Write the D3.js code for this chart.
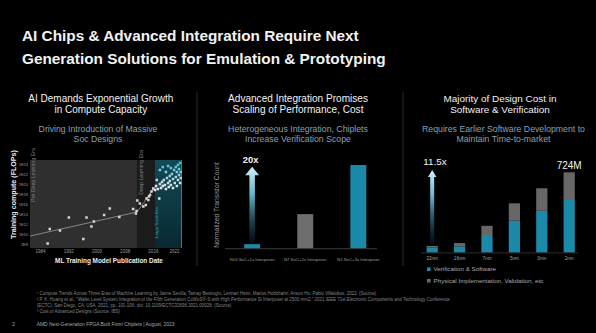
<!DOCTYPE html>
<html><head><meta charset="utf-8">
<script src="https://cdn.jsdelivr.net/npm/d3@7"></script>
<style>
html,body{margin:0;padding:0;background:#000;}
svg{display:block;}
text{font-family:"Liberation Sans",Arial,sans-serif;}
</style></head><body>
<svg id="c" width="596" height="333"></svg>
<script>
// ---------------- DATA ----------------
const titleLines = ["AI Chips & Advanced Integration Require Next", "Generation Solutions for Emulation & Prototyping"];

const panelHeaders = [
  ["AI Demands Exponential Growth", "in Compute Capacity"],
  ["Advanced Integration Promises", "Scaling of Performance, Cost"],
  ["Majority of Design Cost in", "Software & Verification"]
];
const panelSubtitles = [
  ["Driving Introduction of Massive", "Soc Designs"],
  ["Heterogeneous Integration, Chiplets", "Increase Verification Scope"],
  ["Requires Earlier Software Development to", "Maintain Time-to-market"]
];

// Panel 1: ML training compute
const eraNames = ["Pre Deep Learning Era", "Deep Learning Era", "Large Scale Era"];
const eraStartYear = [1981.2, 2011.5, 2016.6];
const eraEndYear = [2011.5, 2016.6, 2024.25];
const yearTicks = [1984, 1992, 2000, 2008, 2016, 2022];
const flopTickExps = [8, 10, 12, 14, 16, 18, 20, 22, 24];
const modelYears = [1986.2, 1986.8, 1989.7, 1992.2, 1996.3, 1997.2, 1998.6, 1999.3, 2002.2, 2003.8, 2006.5,
  2010.4, 2011.2, 2011.4, 2011.6, 2012.3, 2013.3, 2014.0, 2014.2, 2014.7, 2015.2, 2015.6, 2014.9, 2016.1, 2016.6, 2017.8,
  2016.9, 2017.4, 2018.0, 2018.3, 2018.6, 2018.8, 2019.1, 2019.4, 2019.7, 2020.0, 2020.3, 2020.5, 2020.8, 2020.8,
  2021.1, 2021.4, 2021.7, 2021.7, 2022.0, 2022.2, 2022.5, 2022.5, 2022.8, 2022.8, 2023.1, 2023.1, 2023.4, 2023.4,
  2023.7, 2023.7, 2023.9, 2023.9, 2017.1, 2018.0, 2018.8, 2019.7, 2020.3, 2021.1];
const modelFlopExps = [8.1, 11.0, 10.7, 13.3, 9.0, 13.3, 11.5, 12.5, 13.8, 15.1, 13.4,
  15.0, 14.1, 14.6, 16.7, 16.1, 15.5, 15.8, 17.1, 16.8, 17.8, 18.5, 17.5, 19.1, 18.8, 17.1,
  19.6, 19.0, 20.0, 19.2, 20.4, 19.6, 20.8, 19.8, 19.0, 21.2, 20.2, 19.4, 21.6, 20.6,
  19.8, 22.0, 21.0, 19.2, 22.8, 20.2, 21.4, 23.4, 22.4, 19.6, 20.8, 23.8, 21.8, 23.0,
  20.2, 24.2, 21.2, 22.4, 20.8, 22.8, 23.4, 22.4, 23.6, 23.2];
const trendYears = [[1981.2, 2011.5], [2011.5, 2016.6]];
const trendFlopExps = [[9.6, 14.4], [14.4, 19.4]];

// Panel 2: normalized transistor count
const integCategories = ["N16 SoC+1x Interposer", "N7 SoC+2x Interposer", "N5 SoC+3x Interposer"];
const integValues = [1, 8.2, 20];
const integLabel = "20x";

// Panel 3: design cost ($M)
const nodes = ["22nm", "16nm", "7nm", "5nm", "3nm", "2nm"];
const verifSoftware = [46, 55, 158, 287, 377, 474];
const physicalImpl = [14, 30, 83, 157, 203, 250];
const costLegend = ["Verification & Software", "Physical Implementation, Validation, etc"];
const costGrowthLabel = "11.5x";

const footnotes = [
  "¹ Compute Trends Across Three Eras of Machine Learning by Jaime Sevilla, Tamay Besiroglu, Lennart Heim, Marius Hobbhahn, Anson Ho, Pablo Villalobos. 2022. (Source)",
  "² P. K. Huang et al., \"Wafer Level System Integration of the Fifth Generation CoWoS®-S with High Performance Si Interposer at 2500 mm2,\" 2021 IEEE 71st Electronic Components and Technology Conference",
  "(ECTC), San Diego, CA, USA, 2021, pp. 101-106, doi: 10.1109/ECTC32696.2021.00028. (Source)",
  "³ Cost of Advanced Designs (Source: IBS)"
];
const footerText = "AMD Next-Generation FPGA Built From Chiplets  |  August, 2023";
const pageNumber = "2";

// ---------------- DRAW ----------------
const svg = d3.select("#c");
const defs = svg.append("defs");
svg.append("rect").attr("width", 596).attr("height", 333).attr("fill", "#000");

function addText(parent, txt, x, y, size, o = {}) {
  const t = parent.append("text")
    .attr("x", x).attr("y", y)
    .attr("font-size", size)
    .attr("fill", o.fill || "#fff")
    .attr("text-anchor", o.anchor || "start")
    .attr("font-weight", o.weight || "normal")
    .text(txt);
  if (o.transform) t.attr("transform", o.transform);
  if (o.width) {
    const l = t.node().getComputedTextLength();
    if (l > 0) t.attr("font-size", size * o.width / l);
  }
  return t;
}

// Title
const t0 = addText(svg, titleLines[0], 22, 41, 16.5, {weight: "bold", fill: "#f2f2f2", width: 337});
addText(svg, titleLines[1], 22, 64, +t0.attr("font-size"), {weight: "bold", fill: "#f2f2f2"});

// Panel headers
const headerCx = [100.8, 298, 500];
const headerW = [145, 140, 113];
const subW = [119, 140, 163];
const subCx = [98, 298, 503.5];
panelHeaders.forEach((h, i) => {
  const a = addText(svg, h[0], headerCx[i], 101.5, 10, {anchor: "middle", fill: "#f0f0f0", width: headerW[i]});
  addText(svg, h[1], headerCx[i], 112.5, +a.attr("font-size"), {anchor: "middle", fill: "#f0f0f0"});
});
panelSubtitles.forEach((s, i) => {
  const a = addText(svg, s[0], subCx[i], 131.5, 9, {anchor: "middle", fill: "#86a0b2", width: subW[i]});
  addText(svg, s[1], subCx[i], 141.5, +a.attr("font-size"), {anchor: "middle", fill: "#86a0b2"});
});

// Dividers
[197, 403].forEach(x => svg.append("line").attr("x1", x).attr("x2", x).attr("y1", 92).attr("y2", 266)
  .attr("stroke", "#353535").attr("stroke-width", 0.8));

// ---------- Panel 1 ----------
const x1 = d3.scaleLinear().domain([1981.2, 2024.25]).range([30, 182]);
const y1 = d3.scaleLog().domain([Math.pow(10, 7.2), Math.pow(10, 24.8)]).range([248, 160]);
const p1 = svg.append("g");

const lsGrad = defs.append("linearGradient").attr("id", "lsGrad").attr("x1", 0).attr("y1", 0).attr("x2", 0).attr("y2", 1);
lsGrad.append("stop").attr("offset", "0%").attr("stop-color", "#124a57");
lsGrad.append("stop").attr("offset", "100%").attr("stop-color", "#092830");
const eraFills = ["#2f2f2f", "#1b1b1b", "url(#lsGrad)"];
eraNames.forEach((n, i) => {
  p1.append("rect")
    .attr("x", x1(eraStartYear[i])).attr("y", y1.range()[1])
    .attr("width", x1(eraEndYear[i]) - x1(eraStartYear[i]))
    .attr("height", y1.range()[0] - y1.range()[1])
    .attr("fill", eraFills[i]);
});
p1.append("line").attr("x1", x1(eraEndYear[2]) - 0.5).attr("x2", x1(eraEndYear[2]) - 0.5)
  .attr("y1", 160).attr("y2", 248).attr("stroke", "#2d7f93").attr("stroke-width", 1);

// Era labels (rotated)
const eraLabelSpec = [
  {dx: 4.8, top: 148, len: 54, fill: "#7a7a7a"},
  {dx: 6, top: 150, len: 45, fill: "#858585"},
  {dx: 3.5, top: 207, len: 31, fill: "#39a9c0"}
];
eraNames.forEach((n, i) => {
  const s = eraLabelSpec[i];
  const xx = x1(eraStartYear[i]) + s.dx;
  addText(p1, n, 0, 0, 5, {anchor: "end", fill: s.fill, width: s.len,
    transform: `translate(${xx},${s.top}) rotate(-90)`});
});

// Trend lines
const tl = d3.line().x(d => x1(d[0])).y(d => y1(Math.pow(10, d[1])));
trendYears.forEach((ys, i) => {
  p1.append("path").attr("d", tl(ys.map((y, j) => [y, trendFlopExps[i][j]])))
    .attr("fill", "none").attr("stroke", "#9a9a9a").attr("stroke-width", 0.8);
});

// Points
const teal = d3.interpolateRgb("#e4e4e4", "#4fc0da");
modelYears.forEach((yr, i) => {
  const e = modelFlopExps[i];
  let c = "#d6d6d6";
  if (yr >= eraStartYear[2]) c = teal(Math.max(0, Math.min(1, (e - 19.5) / 4.5)));
  p1.append("rect")
    .attr("x", x1(yr) - 1.25).attr("y", y1(Math.pow(10, e)) - 1.25)
    .attr("width", 2.5).attr("height", 2.5).attr("fill", c);
});

// Axes
const ya = p1.append("g").attr("transform", "translate(30,0)")
  .call(d3.axisLeft(y1).tickValues(flopTickExps.map(e => Math.pow(10, e)))
    .tickFormat(d => "1E" + Math.round(Math.log10(d))).tickSize(0).tickPadding(2));
ya.select(".domain").remove();
ya.selectAll("text").attr("fill", "#9a9a9a").attr("font-size", 4).attr("font-family", "Liberation Sans, Arial, sans-serif");
const xa = p1.append("g").attr("transform", "translate(0,248)")
  .call(d3.axisBottom(x1).tickValues(yearTicks).tickFormat(d3.format("d")).tickSize(0).tickPadding(2));
xa.select(".domain").remove();
xa.selectAll("text").attr("fill", "#9a9a9a").attr("font-size", 4.5).attr("font-family", "Liberation Sans, Arial, sans-serif");

addText(p1, "ML Training Model Publication Date", 109, 262.5, 7, {anchor: "middle", fill: "#ececec", weight: "bold", width: 108});
addText(p1, "Training compute (FLOPs)", 0, 0, 7, {anchor: "middle", fill: "#ececec", weight: "bold", width: 89,
  transform: "translate(15.8,194.5) rotate(-90)"});

// ---------- Arrow helper ----------
function arrowGrad(id) {
  const g = defs.append("linearGradient").attr("id", id).attr("x1", 0).attr("y1", 0).attr("x2", 0).attr("y2", 1);
  g.append("stop").attr("offset", "0%").attr("stop-color", "#d6eff8").attr("stop-opacity", 1);
  g.append("stop").attr("offset", "35%").attr("stop-color", "#6cc0dc").attr("stop-opacity", 0.95);
  g.append("stop").attr("offset", "100%").attr("stop-color", "#13566d").attr("stop-opacity", 0.15);
}
function drawArrow(parent, cx, tip, bottom, headW, headH, shaftW, id) {
  arrowGrad(id);
  const p = d3.path();
  p.moveTo(cx, tip);
  p.lineTo(cx + headW / 2, tip + headH);
  p.lineTo(cx + shaftW / 2, tip + headH);
  p.lineTo(cx + shaftW / 2, bottom);
  p.lineTo(cx - shaftW / 2, bottom);
  p.lineTo(cx - shaftW / 2, tip + headH);
  p.lineTo(cx - headW / 2, tip + headH);
  p.closePath();
  parent.append("path").attr("d", p.toString()).attr("fill", `url(#${id})`);
}

// ---------- Panel 2 ----------
const p2 = svg.append("g");
const x2 = d3.scaleBand().domain(integCategories).range([225.6, 384.9]).paddingInner(0.7).paddingOuter(0.35);
const y2 = d3.scaleLinear().domain([0, 20]).range([248.3, 165]);
const integColors = ["#1b8aa8", "#6e6e6e", "#1b8aa8"];
integCategories.forEach((c, i) => {
  p2.append("rect").attr("x", x2(c)).attr("y", y2(integValues[i]))
    .attr("width", x2.bandwidth()).attr("height", y2(0) - y2(integValues[i]))
    .attr("fill", integColors[i]);
});
p2.append("line").attr("x1", 225).attr("x2", 377).attr("y1", y2(0) + 0.4).attr("y2", y2(0) + 0.4)
  .attr("stroke", "#4a4a4a").attr("stroke-width", 0.8);
const x2a = p2.append("g").attr("transform", `translate(0,${y2(0)})`)
  .call(d3.axisBottom(x2).tickSize(0).tickPadding(9.5));
x2a.select(".domain").remove();
x2a.selectAll("text").attr("fill", "#9a9a9a").attr("font-size", 4.3).attr("font-family", "Liberation Sans, Arial, sans-serif");
addText(p2, "Normalized Transistor Count", 0, 0, 6, {anchor: "middle", fill: "#9a9a9a", width: 86,
  transform: "translate(218.5,205) rotate(-90)"});
const cx20 = x2(integCategories[0]) + x2.bandwidth() / 2;
const tip20 = y2(integValues[2]) + 1.7;
drawArrow(p2, cx20, tip20, y2(integValues[0]) - 1, 14, 8.5, 5.5, "ag1");
addText(p2, integLabel, cx20 - 1.5, tip20 - 4, 10.5, {anchor: "middle", weight: "bold", fill: "#f4f4f4", width: 15.6});

// ---------- Panel 3 ----------
const p3 = svg.append("g");
const x3 = d3.scaleBand().domain(nodes).range([418.5, 582.9]).paddingInner(0.59).paddingOuter(0.295);
const totals = nodes.map((n, i) => verifSoftware[i] + physicalImpl[i]);
const y3 = d3.scaleLinear().domain([0, 724]).range([252.5, 172.3]);
const stack = d3.stack().keys(["v", "p"])(nodes.map((n, i) => ({node: n, v: verifSoftware[i], p: physicalImpl[i]})));
const stackColors = ["#1b8aa8", "#676767"];
stack.forEach((layer, li) => {
  layer.forEach(d => {
    p3.append("rect").attr("x", x3(d.data.node)).attr("y", y3(d[1]))
      .attr("width", x3.bandwidth()).attr("height", y3(d[0]) - y3(d[1]))
      .attr("fill", stackColors[li]);
  });
});
p3.append("line").attr("x1", 421).attr("x2", 578).attr("y1", y3(0) + 0.4).attr("y2", y3(0) + 0.4)
  .attr("stroke", "#3c3c3c").attr("stroke-width", 0.8);
const x3a = p3.append("g").attr("transform", `translate(0,${y3(0)})`)
  .call(d3.axisBottom(x3).tickSize(0).tickPadding(4.5));
x3a.select(".domain").remove();
x3a.selectAll("text").attr("fill", "#a0a0a0").attr("font-size", 4.6).attr("font-family", "Liberation Sans, Arial, sans-serif");

const cx11 = x3(nodes[0]) + x3.bandwidth() / 2;
const tip11 = y3(totals[totals.length - 1]) - 2.3;
drawArrow(p3, cx11, tip11, y3(totals[0]) - 1.5, 8.5, 7, 4, "ag2");
addText(p3, costGrowthLabel, cx11 + 2.8, tip11 - 5, 9.5, {anchor: "middle", fill: "#f4f4f4", width: 23.4});
const last = nodes[nodes.length - 1];
addText(p3, totals[totals.length - 1] + "M", x3(last) + x3.bandwidth() / 2, y3(totals[totals.length - 1]) - 3.3, 10,
  {anchor: "middle", fill: "#f4f4f4", width: 25});

// Legend
costLegend.forEach((l, i) => {
  const yy = 271 + i * 11.5;
  p3.append("rect").attr("x", 427).attr("y", yy - 3.6).attr("width", 3.6).attr("height", 3.6).attr("fill", stackColors[i]);
  addText(p3, l, 433.5, yy, 5, {fill: "#a8a8a8", width: i === 0 ? 62.7 : 110});
});

// ---------- Footnotes ----------
const fn0 = addText(svg, footnotes[0], 36.7, 294.5, 4, {fill: "#858585", width: 340});
const fnSize = fn0.attr("font-size");
footnotes.slice(1).forEach((f, i) => {
  addText(svg, f, 36.7, [300.8, 307.3, 313.2][i], fnSize, {fill: "#858585"});
});
addText(svg, pageNumber, 12.3, 326, 5, {fill: "#aaaaaa"});
addText(svg, footerText, 36.7, 326, 5, {fill: "#aaaaaa", width: 138});
</script>
</body></html>
